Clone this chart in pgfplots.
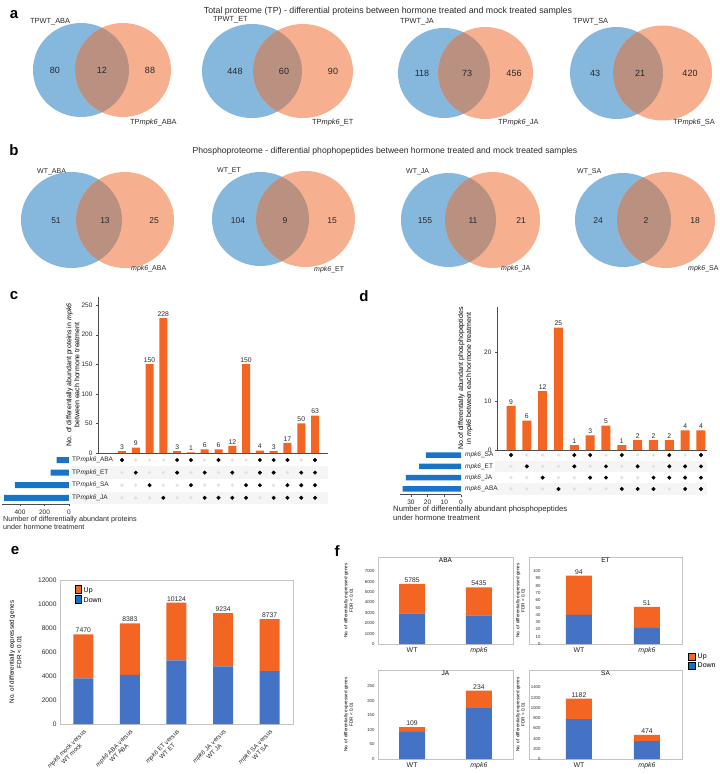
\documentclass[border=0pt]{standalone}
\usepackage{fontspec}
\setmainfont{Liberation Sans}
\usepackage{pgfplots}
\pgfplotsset{compat=1.18}

\definecolor{vblue}{RGB}{134,184,222}
\definecolor{vorange}{RGB}{246,176,144}
\definecolor{vover}{RGB}{186,144,128}
\definecolor{bor}{RGB}{242,101,34}
\definecolor{bblue}{RGB}{68,114,196}
\definecolor{lblue}{RGB}{20,112,200}
\definecolor{ublue}{RGB}{24,116,200}
\definecolor{dotgray}{RGB}{226,226,226}
\definecolor{rowshade}{RGB}{245,245,245}
\definecolor{boxgray}{RGB}{195,195,195}
\definecolor{txt}{RGB}{40,40,40}

\newcommand{\fs}[1]{\fontsize{#1}{#1}\selectfont}

% blue set, orange set, overlap
\newcommand{\venn}[7]{%
  \fill[vblue] (axis cs:#1,-#7) ellipse [x radius=#2, y radius=#3];
  \fill[vorange] (axis cs:#4,-#7) ellipse [x radius=#5, y radius=#6];
  \begin{scope}
    \clip (axis cs:#1,-#7) ellipse [x radius=#2, y radius=#3];
    \fill[vover] (axis cs:#4,-#7) ellipse [x radius=#5, y radius=#6];
  \end{scope}}

\pgfplotsset{
  every axis/.append style={/pgf/number format/assume math mode=true,
    /pgf/number format/1000 sep={}},
  upbars/.style={scale only axis, clip=false, axis x line=bottom, axis y line=left,
    axis line style={-,black!70}, tick align=outside, major tick length=2pt,
    xtick=\empty, ytick pos=left, tick style={black!70},
    tick label style={font=\fs{6.5}, text=txt}, ybar,
    ylabel style={align=center, font=\fontsize{7}{8}\selectfont, anchor=south}},
  dots/.style={scale only axis, clip=false, hide axis, ymin=0.5, ymax=4.5},
  setbars/.style={scale only axis, clip=false, x dir=reverse, xmin=0,
    ymin=0.5, ymax=4.5, axis x line=bottom, axis y line=none,
    axis line style={-,black!70}, tick align=outside, major tick length=2pt,
    tick style={black!70}, tick label style={font=\fs{6.5}, text=txt}, xbar},
  boxleg/.style={legend image code/.code={\fill[##1] (0pt,-3.5pt) rectangle (7pt,3.5pt);},
    legend cell align=left, legend style={draw=none, fill=none, font=\fs{7},
    inner sep=0pt, row sep=-1pt}},
  totals/.style={fill=none, draw=none, forget plot, nodes near coords,
    point meta=explicit symbolic,
    every node near coord/.append style={font=\fs{6.8}, text=txt, anchor=south, inner sep=1.2pt}},
  fax/.style={scale only axis, clip=false, ybar stacked, stacked ignores zero=false,
    bar width=26pt, scaled y ticks=false,
    axis line style={boxgray}, major tick length=0pt, xtick={1,2},
    xticklabels={WT,\textit{mpk6}}, xticklabel style={font=\fs{7}, text=txt},
    yticklabel style={font=\fs{4.3}, text=txt},
    ylabel={No. of differentially expressed genes\\FDR < 0.01},
    ylabel style={align=center, font=\fontsize{4.6}{5.4}\selectfont, anchor=south},
    title style={at={(0.5,1)}, anchor=north, yshift=-3pt, font=\fs{6.5}}},
}

\begin{document}
\begin{tikzpicture}
\path[use as bounding box] (0pt,0pt) rectangle (720pt,-774pt);

% ---------- canvas: venn diagrams and texts ----------
\begin{axis}[at={(0pt,0pt)}, anchor=north west, scale only axis, width=720pt, height=774pt,
  xmin=0, xmax=720, ymin=-774, ymax=0, hide axis, clip=false]
\venn{81}{48}{47}{123}{48}{47}{70}
\venn{252}{50}{47}{303}{50}{47}{71}
\venn{444}{46}{45}{485.5}{47.5}{46}{73}
\venn{616.5}{46.5}{46}{662.5}{49.5}{47.5}{73}
\venn{71.5}{50.5}{48}{125}{49}{48}{220}
\venn{260.5}{48.5}{47}{305.5}{49.5}{48}{219}
\venn{448.5}{47.5}{47}{492.5}{47.5}{48}{220}
\venn{623}{48}{47}{666}{49}{48}{220}

\begin{scope}[every node/.style={font=\fs{9}, text=txt}]
\node at (axis cs:55,-70) {80};   \node at (axis cs:102,-70) {12};  \node at (axis cs:150,-70) {88};
\node at (axis cs:235,-71) {448}; \node at (axis cs:284,-71) {60};  \node at (axis cs:333,-71) {90};
\node at (axis cs:422,-73) {118}; \node at (axis cs:467,-73) {73};  \node at (axis cs:514,-73) {456};
\node at (axis cs:595,-73) {43};  \node at (axis cs:640,-73) {21};  \node at (axis cs:690,-73) {420};
\end{scope}
\begin{scope}[every node/.style={font=\fs{8.5}, text=txt}]
\node at (axis cs:56,-221) {51};   \node at (axis cs:105,-221) {13}; \node at (axis cs:154,-221) {25};
\node at (axis cs:238,-221) {104}; \node at (axis cs:285,-221) {9};  \node at (axis cs:332,-221) {15};
\node at (axis cs:425,-221) {155}; \node at (axis cs:473,-221) {11}; \node at (axis cs:521,-221) {21};
\node at (axis cs:598,-221) {24};  \node at (axis cs:646,-221) {2};  \node at (axis cs:695,-221) {18};
\end{scope}
\begin{scope}[every node/.style={font=\fs{7.4}, text=txt, anchor=west, inner sep=0pt}]
\node at (axis cs:30,-22) {TPWT\_ABA};  \node at (axis cs:130,-123) {TP\textit{mpk6}\_ABA};
\node at (axis cs:213,-20) {TPWT\_ET};  \node at (axis cs:312,-123) {TP\textit{mpk6}\_ET};
\node at (axis cs:400,-22) {TPWT\_JA};  \node at (axis cs:498,-123) {TP\textit{mpk6}\_JA};
\node at (axis cs:573,-22) {TPWT\_SA};  \node at (axis cs:673,-123) {TP\textit{mpk6}\_SA};
\end{scope}
\begin{scope}[every node/.style={font=\fs{7}, text=txt, anchor=west, inner sep=0pt}]
\node at (axis cs:37,-172) {WT\_ABA};  \node at (axis cs:131,-269) {\textit{mpk6}\_ABA};
\node at (axis cs:217,-171) {WT\_ET};  \node at (axis cs:314,-270) {\textit{mpk6}\_ET};
\node at (axis cs:406,-172) {WT\_JA};  \node at (axis cs:501,-269) {\textit{mpk6}\_JA};
\node at (axis cs:577,-172) {WT\_SA};  \node at (axis cs:688,-269) {\textit{mpk6}\_SA};
\end{scope}

\node[font=\fs{8.8}, text=txt] at (axis cs:388,-11) {Total proteome (TP) - differential proteins between hormone treated and mock treated samples};
\node[font=\fs{8.6}, text=txt] at (axis cs:385,-151) {Phosphoproteome - differential phophopeptides between hormone treated and mock treated samples};

\begin{scope}[every node/.style={font=\fs{15}\bfseries}]
\node at (axis cs:14,-15) {a};
\node at (axis cs:14,-150) {b};
\node at (axis cs:14,-296) {c};
\node at (axis cs:364,-296) {d};
\node at (axis cs:15,-551) {e};
\node at (axis cs:337,-551) {f};
\end{scope}

\node[anchor=north west, align=left, font=\fontsize{7.2}{8.5}\selectfont, text=txt, inner sep=0pt]
  at (axis cs:3,-516) {Number of differentially abundant proteins\\under hormone treatment};
\node[anchor=north west, align=left, font=\fontsize{7.7}{9.2}\selectfont, text=txt, inner sep=0pt]
  at (axis cs:393,-506) {Number of differentially abundant phosphopeptides\\under hormone treatment};
\end{axis}

% ---------- c: upset ----------
\begin{axis}[upbars, at={(98pt,-453pt)}, anchor=south west, width=230pt, height=156pt,
  xmin=-0.739, xmax=15.94, ymin=0, ymax=263.5, ytick={0,50,...,250}, bar width=8pt,
  ylabel={No. of differentially abundant proteins in \textit{mpk6}\\between each hormone treatment},
  ylabel style={at={(rel axis cs:-0.065,0.5)}}]
\addplot[fill=bor, draw=none, nodes near coords,
  every node near coord/.append style={font=\fs{6.8}, text=txt, inner sep=1.5pt}]
  coordinates {(1,3)(2,9)(3,150)(4,228)(5,3)(6,1)(7,6)(8,6)(9,12)(10,150)(11,4)(12,3)(13,17)(14,50)(15,63)};
\end{axis}

\begin{axis}[dots, at={(70pt,-453.7pt)}, anchor=north west, width=258pt, height=50.4pt,
  xmin=-2.768, xmax=15.94]
\fill[rowshade] (axis cs:-2.768,2.5) rectangle (axis cs:15.94,3.5);
\fill[rowshade] (axis cs:-2.768,0.5) rectangle (axis cs:15.94,1.5);
\addplot[only marks, mark=*, mark size=1.5pt, color=dotgray] coordinates {
  (2,4)(3,4)(4,4)(7,4)(9,4)(10,4)(14,4)
  (1,3)(3,3)(4,3)(6,3)(8,3)(10,3)(13,3)
  (1,2)(2,2)(4,2)(5,2)(7,2)(8,2)(9,2)(12,2)
  (1,1)(2,1)(3,1)(5,1)(6,1)(11,1)};
\addplot[only marks, mark=*, mark size=1.8pt, color=black] coordinates {
  (1,4)(5,4)(6,4)(8,4)(11,4)(12,4)(13,4)(15,4)
  (2,3)(5,3)(7,3)(9,3)(11,3)(12,3)(14,3)(15,3)
  (3,2)(6,2)(10,2)(11,2)(13,2)(14,2)(15,2)
  (4,1)(7,1)(8,1)(9,1)(10,1)(12,1)(13,1)(14,1)(15,1)};
\begin{scope}[every node/.style={font=\fs{6.5}, text=txt, anchor=west, inner sep=0pt}]
\node at (axis cs:-2.62,4) {TP\textit{mpk6}\_ABA};
\node at (axis cs:-2.62,3) {TP\textit{mpk6}\_ET};
\node at (axis cs:-2.62,2) {TP\textit{mpk6}\_SA};
\node at (axis cs:-2.62,1) {TP\textit{mpk6}\_JA};
\end{scope}
\end{axis}

\begin{axis}[setbars, at={(2pt,-453.7pt)}, anchor=north west, width=67pt, height=50.4pt,
  xmax=547, xtick={0,200,400}, bar width=6pt]
\addplot[fill=ublue, draw=none] coordinates {(100,4)(150,3)(441,2)(529,1)};
\end{axis}

% ---------- d: upset ----------
\begin{axis}[upbars, at={(497pt,-450pt)}, anchor=south west, width=210pt, height=143pt,
  xmin=0.116, xmax=13.38, ymin=0, ymax=29.2, ytick={0,10,20}, bar width=9pt,
  ylabel={No.of differentially abundant phosphopeptides\\in \textit{mpk6} between each hormone treatment},
  ylabel style={at={(rel axis cs:-0.1,0.5)}}]
\addplot[fill=bor, draw=none, nodes near coords,
  every node near coord/.append style={font=\fs{6.8}, text=txt, inner sep=1.5pt}]
  coordinates {(1,9)(2,6)(3,12)(4,25)(5,1)(6,3)(7,5)(8,1)(9,2)(10,2)(11,2)(12,4)(13,4)};
\end{axis}

\begin{axis}[dots, at={(495pt,-449.4pt)}, anchor=north west, width=212pt, height=45.2pt,
  xmin=-0.010, xmax=13.38]
\fill[rowshade] (axis cs:-0.010,2.5) rectangle (axis cs:13.38,3.5);
\fill[rowshade] (axis cs:-0.010,0.5) rectangle (axis cs:13.38,1.5);
\addplot[only marks, mark=*, mark size=1.5pt, color=dotgray] coordinates {
  (2,4)(3,4)(4,4)(7,4)(9,4)(10,4)(12,4)
  (1,3)(3,3)(4,3)(6,3)(8,3)(10,3)
  (1,2)(2,2)(4,2)(5,2)(8,2)(9,2)
  (1,1)(2,1)(3,1)(5,1)(6,1)(7,1)(11,1)};
\addplot[only marks, mark=*, mark size=1.8pt, color=black] coordinates {
  (1,4)(5,4)(6,4)(8,4)(11,4)(13,4)
  (2,3)(5,3)(7,3)(9,3)(11,3)(12,3)(13,3)
  (3,2)(6,2)(7,2)(10,2)(11,2)(12,2)(13,2)
  (4,1)(8,1)(9,1)(10,1)(12,1)(13,1)};
\begin{scope}[every node/.style={font=\fs{6.5}, text=txt, anchor=west, inner sep=0pt}]
\node at (axis cs:-1.905,4) {\textit{mpk6}\_SA};
\node at (axis cs:-1.905,3) {\textit{mpk6}\_ET};
\node at (axis cs:-1.905,2) {\textit{mpk6}\_JA};
\node at (axis cs:-1.905,1) {\textit{mpk6}\_ABA};
\end{scope}
\end{axis}

\begin{axis}[setbars, at={(400pt,-449.4pt)}, anchor=north west, width=61pt, height=45.2pt,
  xmax=36.5, xtick={0,10,20,30}, bar width=5.5pt]
\addplot[fill=ublue, draw=none] coordinates {(21,4)(25,3)(33,2)(35,1)};
\end{axis}

% ---------- e ----------
\begin{axis}[boxleg, at={(60pt,-724pt)}, anchor=south west, scale only axis, clip=false,
  width=233pt, height=144pt, xmin=-0.5, xmax=4.5, ymin=0, ymax=12000, scaled y ticks=false,
  ybar stacked, stacked ignores zero=false, bar width=20pt, axis line style={boxgray},
  major tick length=0pt, ytick={0,2000,...,12000}, xtick={0,...,4},
  xticklabels={\textit{mpk6} mock versus\\WT mock, \textit{mpk6} ABA versus\\WT ABA,
    \textit{mpk6} ET versus\\WT ET, \textit{mpk6} JA versus\\WT JA, \textit{mpk6} SA versus\\WT SA},
  xticklabel style={rotate=45, anchor=north east, align=center,
    font=\fontsize{6.2}{7}\selectfont, text=txt},
  yticklabel style={font=\fs{6.6}, text=txt},
  ylabel={No. of differentially expressed genes\\FDR < 0.01},
  ylabel style={align=center, font=\fontsize{6.3}{7.5}\selectfont, anchor=south,
    at={(rel axis cs:-0.15,0.5)}},
  legend style={at={(0.065,0.97)}, anchor=north west}]
\addplot[fill=bblue, draw=none, forget plot] coordinates {(0,3800)(1,4100)(2,5300)(3,4800)(4,4400)};
\addplot[fill=bor, draw=none, forget plot] coordinates {(0,3670)(1,4283)(2,4824)(3,4434)(4,4337)};
\addplot[totals] coordinates {(0,0)[7470] (1,0)[8383] (2,0)[10124] (3,0)[9234] (4,0)[8737]};
\addlegendimage{fill=bor}\addlegendentry{Up}
\addlegendimage{fill=lblue}\addlegendentry{Down}
\end{axis}

% ---------- f ----------
\begin{axis}[fax, at={(378pt,-644pt)}, anchor=south west, width=135pt, height=87pt,
  xmin=0.49, xmax=2.51, ymin=0, ymax=8361, ytick={0,1000,...,7000}, title={ABA},
  ylabel style={at={(rel axis cs:-0.16,0.5)}}]
\addplot[fill=bblue, draw=none] coordinates {(1,2950)(2,2750)};
\addplot[fill=bor, draw=none] coordinates {(1,2835)(2,2685)};
\addplot[totals] coordinates {(1,0)[5785] (2,0)[5435]};
\end{axis}

\begin{axis}[fax, at={(529pt,-644pt)}, anchor=south west, width=153pt, height=87pt,
  xmin=0.265, xmax=2.515, ymin=0, ymax=119.4, ytick={0,10,...,100}, title={ET},
  yticklabel style={xshift=15pt}, ylabel style={at={(rel axis cs:-0.005,0.5)}}]
\addplot[fill=bblue, draw=none] coordinates {(1,40)(2,22)};
\addplot[fill=bor, draw=none] coordinates {(1,54)(2,29)};
\addplot[totals] coordinates {(1,0)[94] (2,0)[51]};
\end{axis}

\begin{axis}[fax, at={(378pt,-759pt)}, anchor=south west, width=135pt, height=89pt,
  xmin=0.49, xmax=2.51, ymin=0, ymax=305, ytick={0,50,...,250}, title={JA},
  ylabel style={at={(rel axis cs:-0.16,0.5)}}]
\addplot[fill=bblue, draw=none] coordinates {(1,93)(2,174)};
\addplot[fill=bor, draw=none] coordinates {(1,16)(2,60)};
\addplot[totals] coordinates {(1,0)[109] (2,0)[234]};
\end{axis}

\begin{axis}[fax, boxleg, at={(529pt,-759pt)}, anchor=south west, width=153pt, height=89pt,
  xmin=0.265, xmax=2.515, ymin=0, ymax=1740, ytick={0,200,...,1400}, title={SA},
  yticklabel style={xshift=15pt}, ylabel style={at={(rel axis cs:-0.005,0.5)}},
  legend style={at={(1.04,1.21)}, anchor=north west}]
\addplot[fill=bblue, draw=none, forget plot] coordinates {(1,780)(2,350)};
\addplot[fill=bor, draw=none, forget plot] coordinates {(1,402)(2,124)};
\addplot[totals] coordinates {(1,0)[1182] (2,0)[474]};
\addlegendimage{fill=bor}\addlegendentry{Up}
\addlegendimage{fill=lblue}\addlegendentry{Down}
\end{axis}
\end{tikzpicture}
\end{document}
